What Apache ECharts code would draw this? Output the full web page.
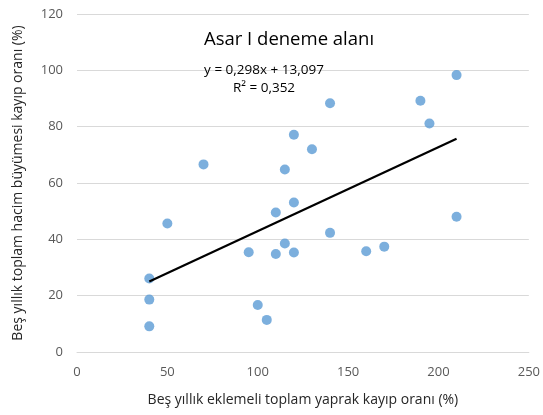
<!DOCTYPE html>
<html>
<head>
<meta charset="utf-8">
<script src="https://cdn.jsdelivr.net/npm/echarts@6/dist/echarts.min.js"></script>
<style>html,body{margin:0;padding:0;background:#fff}#c{width:543px;height:415px}</style>
</head>
<body>
<div id="c"></div>
<script>
const xValues = [40, 40, 40, 50, 70, 95, 100, 105, 110, 110, 115, 115, 120, 120, 120, 130, 140, 140, 160, 170, 190, 195, 210, 210];
const yValues = [26.1, 18.6, 9.1, 45.6, 66.6, 35.4, 16.7, 11.4, 49.5, 34.8, 38.5, 64.8, 53.1, 35.3, 77.1, 72.0, 88.3, 42.3, 35.8, 37.4, 89.2, 81.1, 98.3, 48.0];
const trendSlope = [0.298];
const trendIntercept = [13.097];
const rSquared = [0.352];
const trendRange = [40, 210];
const chartTitle = 'Asar I deneme alanı';
const xTitle = 'Beş yıllık eklemeli toplam yaprak kayıp oranı (%)';
const yTitle = 'Beş yıllık toplam hacim büyümesi kayıp oranı (%)';

const points = xValues.map((x, i) => [x, yValues[i]]);
const trend = trendRange.map(x => [x, trendSlope[0] * x + trendIntercept[0]]);
const fmt = (v, d) => v.toFixed(d).replace('.', ',');
const eqText = 'y = ' + fmt(trendSlope[0], 3) + 'x + ' + fmt(trendIntercept[0], 3) + '\nR² = ' + fmt(rSquared[0], 3);

const FONT = 'Open Sans';
const chart = echarts.init(document.getElementById('c'), null, {renderer: 'canvas'});
chart.setOption({
  animation: false,
  textStyle: {fontFamily: FONT},
  title: [
    {text: chartTitle, left: 289, top: 29, textAlign: 'center', padding: 0,
     textStyle: {fontFamily: FONT, fontSize: 18.5, fontWeight: 'normal', color: '#000', lineHeight: 22}},
    {text: eqText, left: 264, top: 61, textAlign: 'center', padding: 0,
     textStyle: {fontFamily: FONT, fontSize: 13.5, fontWeight: 'normal', color: '#000', lineHeight: 18, align: 'center'}}
  ],
  grid: {left: 77, right: 12, top: 14, bottom: 63, containLabel: false},
  xAxis: {
    type: 'value', min: 0, max: 250, interval: 50,
    name: xTitle, nameLocation: 'middle', nameGap: 41,
    nameTextStyle: {fontFamily: FONT, fontSize: 14, color: '#262626'},
    axisLine: {show: true, lineStyle: {color: '#d9d9d9', width: 1}},
    axisTick: {show: false},
    splitLine: {show: false},
    axisLabel: {fontFamily: FONT, fontSize: 13, color: '#595959', margin: 14}
  },
  yAxis: {
    type: 'value', min: 0, max: 120, interval: 20,
    name: yTitle, nameLocation: 'middle', nameGap: 52,
    nameTextStyle: {fontFamily: FONT, fontSize: 14, color: '#262626'},
    axisLine: {show: false},
    axisTick: {show: false},
    splitLine: {show: true, lineStyle: {color: '#d9d9d9', width: 1}},
    axisLabel: {fontFamily: FONT, fontSize: 13, color: '#595959', margin: 14}
  },
  series: [
    {type: 'scatter', data: points, symbol: 'circle', symbolSize: 10,
     itemStyle: {color: '#5B9BD5'}, z: 3},
    {type: 'line', data: trend, symbol: 'none', lineStyle: {color: '#000', width: 2.2}, z: 4}
  ]
});
</script>
</body>
</html>
